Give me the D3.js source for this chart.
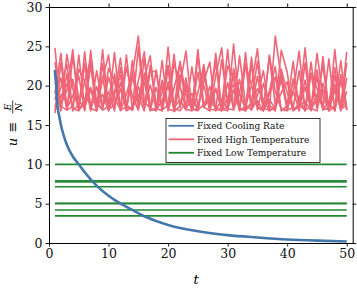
<!DOCTYPE html>
<html><head><meta charset="utf-8">
<script src="https://cdn.jsdelivr.net/npm/d3@7"></script>
<style>body{margin:0;background:#fff}svg{display:block}</style>
</head><body><svg id="c" width="357" height="288"></svg>
<script>
const xTicks = [0,10,20,30,40,50];
const yTicks = [0,5,10,15,20,25,30];
const legendLabels = ["Fixed Cooling Rate","Fixed High Temperature","Fixed Low Temperature"];
const colors = ["#4477AA","#EE6677","#228833"];

// Fixed cooling rate (blue)
const coolT = [1,1.1,1.2,1.3,1.5,1.7,2,2.5,3,4,5,6,7,8,10,12,14,16,18,20,25,30,35,40,45,50];
const coolU = [22,20.5,21.2,18.5,17,16.2,15,13.6,12.5,11,10,9,8.1,7.3,6,5,4.2,3.4,2.8,2.3,1.5,1.0,0.7,0.45,0.3,0.2];

// Fixed low temperature (green)
const lowU = [10.0,7.9,7.75,7.15,5.05,5.0,4.2,3.45];
const lowT = [1,50];

// Fixed high temperature (red), t = 1..50
const highT = d3.range(1,51);
const high1 = [24.8,17.0,21.5,16.8,23.9,17.2,19.5,16.9,22.8,17.5,24.2,16.8,18.9,21.7,17.1,23.5,16.9,19.8,17.3,22.1,16.7,17.4,21.0,16.9,24.6,17.2,18.5,22.9,16.8,20.4,17.0,23.8,17.6,16.9,21.2,17.1,19.3,22.4,16.8,17.5,23.1,16.9,20.7,17.2,18.1,22.6,16.8,19.9,17.3,24.3];
const high2 = [16.5,22.9,17.3,20.8,17.0,24.3,16.9,21.9,17.4,19.2,16.8,22.3,17.6,16.9,24.9,17.2,20.1,17.0,23.2,16.8,19.7,22.8,17.1,18.3,16.9,21.6,17.4,24.1,17.0,16.8,22.2,18.9,17.1,23.6,16.9,20.3,17.5,16.8,21.8,17.2,19.0,24.4,16.9,17.3,21.1,17.0,23.4,16.8,20.6,17.1];
const high3 = [21.8,17.4,16.9,23.7,18.2,17.0,22.6,16.8,20.9,23.9,17.3,19.6,16.9,21.4,26.3,18.0,17.1,22.0,16.9,17.6,24.0,17.2,20.2,16.8,19.1,22.7,17.0,16.9,23.3,17.8,21.5,16.8,17.4,20.0,24.7,17.1,16.9,26.3,21.0,17.3,19.4,16.8,22.9,17.0,24.1,18.6,16.9,21.3,17.2,18.0];
const high4 = [19.0,24.1,17.1,18.7,21.2,16.8,24.5,17.7,16.9,21.1,18.4,17.0,23.9,16.9,19.9,17.3,21.8,21.8,16.8,24.9,17.2,18.2,16.9,22.4,17.4,20.0,16.8,21.3,24.8,17.1,16.9,19.2,22.8,17.0,18.1,16.8,23.7,17.5,20.8,16.9,17.2,21.9,16.8,23.0,17.3,19.5,16.9,24.6,17.0,19.3];
const high5 = [17.3,19.8,22.7,16.9,17.6,20.6,23.3,17.0,18.9,16.8,21.5,17.2,22.4,18.6,16.9,20.9,23.8,17.1,16.8,20.5,17.0,23.1,18.8,16.9,21.7,17.3,16.8,19.6,17.1,22.5,20.9,16.9,24.2,17.0,18.7,21.9,16.8,17.4,22.1,19.1,16.9,17.7,24.8,17.1,16.8,20.3,17.5,22.3,16.9,22.9];
const high6 = [20.5,16.8,24.0,19.6,16.9,22.8,17.1,16.8,24.6,17.0,17.5,20.4,16.9,23.2,17.6,21.6,16.8,17.2,20.7,16.9,22.9,19.9,17.0,16.8,23.8,17.4,19.9,16.9,17.2,24.6,17.0,20.8,16.8,17.9,23.1,16.9,18.3,17.0,24.5,21.7,16.8,17.3,19.8,16.9,22.0,17.1,17.8,16.8,21.4,16.9];
const high7 = [18.2,21.0,16.9,17.4,22.1,20.5,16.8,19.9,17.2,22.2,20.5,16.9,17.3,21.0,18.7,16.8,22.6,17.4,20.0,17.0,16.8,21.4,19.5,17.1,16.9,20.5,23.0,16.8,18.3,17.0,19.5,16.9,22.6,20.1,17.2,16.8,19.0,21.1,17.0,16.9,20.6,18.2,16.8,21.5,19.7,16.9,17.2,20.2,16.8,21.0];
const high8 = [16.9,18.6,20.2,17.1,16.8,18.3,19.8,18.0,16.9,17.4,19.3,21.3,16.8,17.3,18.7,20.4,17.0,16.9,18.1,19.9,17.2,16.8,17.9,19.0,16.9,17.6,18.4,17.0,16.8,18.6,20.2,17.1,16.9,17.8,19.6,18.3,16.8,17.2,19.1,20.5,16.9,17.5,18.0,16.8,18.9,17.3,16.9,19.4,17.0,17.6];
const high9 = [23.0,17.6,19.4,24.6,16.9,17.8,23.1,17.0,21.1,16.8,18.8,23.5,17.3,16.9,20.6,24.3,17.1,16.8,19.2,22.6,16.9,20.1,24.4,17.0,16.8,22.0,17.5,19.7,16.9,17.3,25.3,17.1,16.8,22.7,17.4,16.9,23.9,19.3,17.0,16.8,20.9,17.6,16.9,21.6,17.1,23.7,16.8,17.4,23.2,16.9];
const highSeries = [high1,high2,high3,high4,high5,high6,high7,high8,high9];

const svg = d3.select("#c");
const x = d3.scaleLinear().domain([0,51]).range([49,352.7]);
const y = d3.scaleLinear().domain([0,30]).range([243,7]);
const font = "'DejaVu Serif', serif";

// red lines
const lineH = d3.line().x((d,i)=>x(highT[i])).y(d=>y(d));
highSeries.forEach(s=>{
  svg.append("path").attr("d",lineH(s)).attr("fill","none")
    .attr("stroke",colors[1]).attr("stroke-width",1.6).attr("stroke-linejoin","round");
});
// green lines
lowU.forEach(v=>{
  svg.append("line").attr("x1",x(lowT[0])).attr("x2",x(lowT[1]))
    .attr("y1",y(v)).attr("y2",y(v)).attr("stroke",colors[2]).attr("stroke-width",1.6);
});
// blue
const lineC = d3.line().x((d,i)=>x(coolT[i])).y(d=>y(d)).curve(d3.curveMonotoneX);
svg.append("path").attr("d",lineC(coolU)).attr("fill","none")
  .attr("stroke",colors[0]).attr("stroke-width",2.6);

// axes
function styleAxis(g){
  g.selectAll("path").attr("stroke","#000").attr("stroke-width",1);
  g.selectAll("line").attr("stroke","#000").attr("stroke-width",0.9);
  g.selectAll("text").attr("font-family",font).attr("font-size",12.5).attr("fill","#111");
}
svg.append("g").attr("transform",`translate(0,${y(0)})`)
  .call(d3.axisBottom(x).tickValues(xTicks).tickSize(3.5).tickSizeOuter(0).tickPadding(3)).call(styleAxis);
svg.append("g").attr("transform",`translate(0,${y(30)})`)
  .call(d3.axisTop(x).tickValues(xTicks).tickSize(3.5).tickSizeOuter(0).tickFormat("")).call(styleAxis);
svg.append("g").attr("transform",`translate(${x(0)},0)`)
  .call(d3.axisLeft(y).tickValues(yTicks).tickSize(3.5).tickSizeOuter(0).tickPadding(3)).call(styleAxis);
svg.append("g").attr("transform",`translate(${x(51)},0)`)
  .call(d3.axisRight(y).tickValues(yTicks).tickSize(3.5).tickSizeOuter(0).tickFormat("")).call(styleAxis);

// axis labels
svg.append("text").attr("x",196).attr("y",284).attr("font-family",font)
  .attr("font-style","italic").attr("font-size",13).attr("text-anchor","middle").text("t");
const yl = svg.append("g").attr("transform","translate(17,123) rotate(-90)");
yl.append("text").attr("x",-19).attr("y",0).attr("font-family",font).attr("font-style","italic")
  .attr("font-size",13).attr("text-anchor","middle").text("u");
yl.append("text").attr("x",-4).attr("y",0).attr("font-family",font)
  .attr("font-size",13).attr("text-anchor","middle").text("≡");
yl.append("text").attr("x",16).attr("y",-6.5).attr("font-family",font).attr("font-style","italic")
  .attr("font-size",9.5).attr("text-anchor","middle").text("E");
yl.append("line").attr("x1",9.5).attr("x2",22.5).attr("y1",-4.3).attr("y2",-4.3).attr("stroke","#111").attr("stroke-width",0.8);
yl.append("text").attr("x",16).attr("y",4.5).attr("font-family",font).attr("font-style","italic")
  .attr("font-size",9.5).attr("text-anchor","middle").text("N");

// legend
const lg = svg.append("g");
lg.append("rect").attr("x",166).attr("y",118.5).attr("width",154).attr("height",44)
  .attr("fill","#fff").attr("stroke","#222").attr("stroke-width",0.9);
legendLabels.forEach((l,i)=>{
  const yy = 125.8 + i*13.5;
  lg.append("line").attr("x1",168.5).attr("x2",194).attr("y1",yy).attr("y2",yy)
    .attr("stroke",colors[i]).attr("stroke-width",1.8);
  lg.append("text").attr("x",197).attr("y",yy+3.2).attr("font-family",font)
    .attr("font-size",9).attr("fill","#111").text(l);
});
</script></body></html>
